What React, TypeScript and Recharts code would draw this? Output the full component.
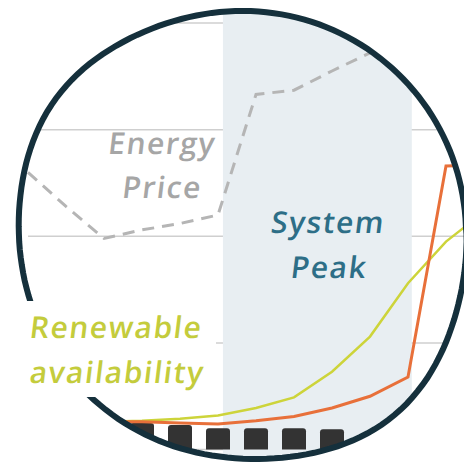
import { ComposedChart, Line, Bar, XAxis, YAxis, CartesianGrid, ReferenceArea } from "recharts"

// hour slots along the day (index), values in chart units (grid every 100)
const hours = [0, 1, 2, 3, 4, 5, 6, 7, 8, 9, 10, 11, 12]
const energyPrice = [260, 228, 198, 206, 212, 220, 333, 337, 355, 372, 388, null, null]
const demand = [null, null, 26, 26, 25, 24, 27, 31, 39, 50, 68, 266, 267]
const renewable = [null, null, 26, 27, 29, 32, 39, 49, 73, 106, 156, 195, 223]
const load = [null, null, null, 25, 23, 20, 20, 20, 19, null, null, null, null]
const yTicks = [0, 100, 200, 300, 400]
const peakStart = 5.13
const peakEnd = 10.1

const data = hours.map((h, i) => ({
  hour: h,
  price: energyPrice[i],
  demand: demand[i],
  renewable: renewable[i],
  load: load[i],
}))

// lens outline: roughly a circle, a bit wider toward the lower right
function lensPath() {
  const cx = 243
  const cy = 234
  let d = ""
  for (let deg = 0; deg < 360; deg += 2) {
    const r =
      223 +
      13 * Math.exp(-(((deg - 50) / 28) ** 2)) +
      8 * Math.exp(-(((deg - 215) / 25) ** 2))
    const a = (deg * Math.PI) / 180
    const x = cx + r * Math.cos(a)
    const y = cy + r * Math.sin(a)
    d += (deg === 0 ? "M" : "L") + x.toFixed(1) + " " + y.toFixed(1)
  }
  return d + "Z"
}

const lens = lensPath()
const font = "'Open Sans', sans-serif"

function Label({ x, y, fill, children }: { x: number; y: number; fill: string; children: string }) {
  return (
    <text transform={`translate(${x},${y}) skewX(-7)`} fill={fill}>
      {children}
    </text>
  )
}

export default function App() {
  return (
    <div style={{ position: "absolute", left: 0, top: 0, width: 464, height: 463, overflow: "hidden", background: "#fff" }}>
      <div style={{ position: "absolute", left: 0, top: 0, width: 490, height: 463, clipPath: `path('${lens}')` }}>
        <ComposedChart width={490} height={463} data={data} margin={{ top: 23, right: 6, bottom: 13.4, left: 28 }}>
          <ReferenceArea x1={peakStart} x2={peakEnd} y1={-20} y2={430} ifOverflow="visible" fill="#e8eef2" fillOpacity={1} stroke="none" />
          <CartesianGrid vertical={false} stroke="#cfcfcf" strokeWidth={1.5} />
          <XAxis dataKey="hour" type="number" domain={[0, 12]} hide />
          <YAxis domain={[0, 400]} ticks={yTicks} hide />
          <Bar dataKey="load" fill="#333333" barSize={24} radius={[3, 3, 0, 0]} isAnimationActive={false} />
          <Line type="linear" dataKey="price" stroke="#b5b5b5" strokeWidth={3} strokeDasharray="12 8" dot={false} isAnimationActive={false} />
          <Line type="linear" dataKey="renewable" stroke="#cdd43a" strokeWidth={2.5} dot={false} isAnimationActive={false} />
          <Line type="linear" dataKey="demand" stroke="#e8703a" strokeWidth={3} dot={false} isAnimationActive={false} />
        </ComposedChart>
      </div>
      <svg width={464} height={463} style={{ position: "absolute", left: 0, top: 0, pointerEvents: "none" }}>
        <path d={lens} fill="none" stroke="#15303c" strokeWidth={6} />
        <rect x={0} y={301} width={216} height={96} fill="#fff" />
        <g fontFamily={font} fontWeight={600} fontSize={30} letterSpacing={1.5} textAnchor="middle">
          <Label x={161} y={154} fill="#a6a6a6">Energy</Label>
          <Label x={161} y={198} fill="#a6a6a6">Price</Label>
          <Label x={327} y={233} fill="#2d6e87">System</Label>
          <Label x={328} y={278} fill="#2d6e87">Peak</Label>
          <Label x={115} y={338} fill="#c4cc3c">Renewable</Label>
          <Label x={116} y={383} fill="#c4cc3c">availability</Label>
        </g>
      </svg>
    </div>
  )
}
